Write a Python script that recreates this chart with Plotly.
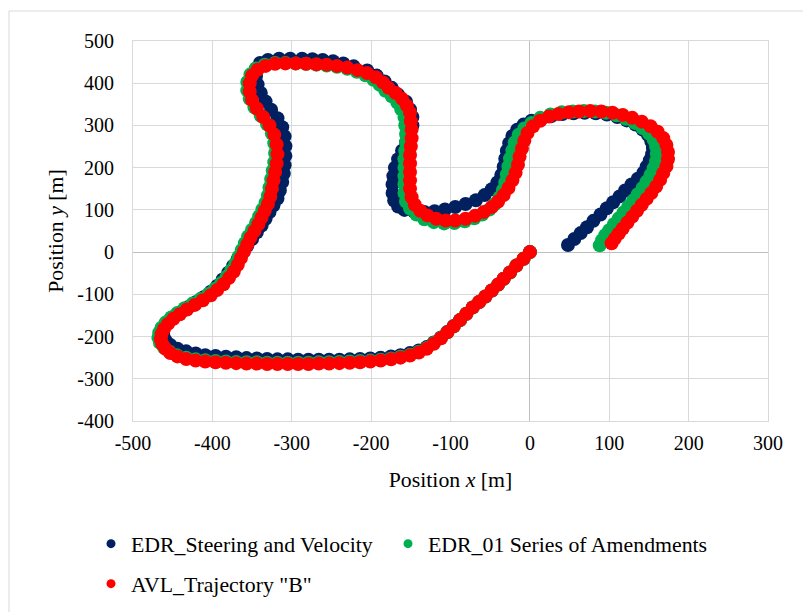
import plotly.graph_objects as go

# Vehicle trajectories, positions in metres
edr_sv_x = [0, -8, -17, -25, -33, -40, -48, -56, -64, -72, -80, -88, -96, -104, -112, -121, -130, -140, -151, -163,
            -175, -188, -201, -214, -227, -240, -253, -266, -279, -292, -305, -318, -331, -344, -357, -370, -383, -396, -409, -421,
            -433, -444, -453, -459, -462, -462, -459, -454, -447, -439, -430, -421, -411, -402, -394, -387, -380, -374, -368, -362,
            -356, -350, -344, -338, -333, -328, -323, -318, -315, -312, -310, -309, -308, -308, -309, -312, -318, -326, -333, -339,
            -343, -345, -345, -340, -330, -316, -302, -287, -274, -261, -248, -235, -222, -205, -193, -183, -174, -166, -156, -151,
            -148, -148, -151, -156, -161, -166, -170, -172, -173, -173, -171, -166, -158, -146, -133, -120, -107, -94, -81, -68,
            -57, -48, -41, -36, -33, -31, -29, -26, -22, -16, -8, 2, 14, 27, 41, 55, 69, 83, 97, 110,
            122, 133, 142, 149, 153, 155, 154, 151, 147, 143, 136, 128, 120, 113, 105, 97, 89, 80, 72, 64,
            56, 48]
edr_sv_y = [0, -16, -32, -48, -63, -77, -91, -105, -118, -131, -146, -161, -175, -189, -202, -214, -225, -233, -239, -244,
            -247, -250, -252, -253, -254, -255, -255, -255, -255, -255, -254, -254, -253, -252, -251, -249, -248, -246, -244, -240,
            -235, -229, -220, -209, -197, -185, -173, -162, -151, -141, -130, -119, -107, -94, -80, -65, -49, -33, -17, -1,
            15, 31, 47, 63, 79, 95, 111, 127, 146, 166, 186, 206, 228, 251, 274, 296, 317, 337, 357, 377,
            397, 417, 435, 448, 455, 458, 458, 458, 457, 455, 452, 447, 440, 430, 418, 404, 389, 373, 356, 338,
            320, 300, 280, 260, 240, 220, 200, 180, 160, 140, 122, 108, 100, 96, 95, 97, 101, 107, 114, 123,
            135, 149, 165, 183, 202, 221, 240, 258, 275, 290, 302, 311, 314, 322, 327, 329, 330, 329, 326, 320,
            312, 302, 290, 277, 262, 247, 232, 217, 202, 188, 174, 160, 146, 132, 118, 104, 89, 74, 59, 45,
            31, 17]

edr_01_x = [0, -8, -17, -25, -33, -40, -48, -56, -64, -72, -80, -88, -96, -104, -112, -121, -130, -140, -151, -163,
            -175, -188, -201, -214, -227, -240, -253, -266, -279, -292, -305, -318, -331, -344, -357, -370, -383, -396, -409, -421,
            -433, -445, -454, -461, -466, -468, -467, -464, -459, -452, -444, -435, -425, -415, -405, -397, -389, -382, -376, -371,
            -367, -363, -359, -355, -350, -345, -341, -337, -333, -330, -328, -326, -324, -322, -321, -322, -325, -331, -339, -347,
            -353, -356, -356, -352, -345, -334, -321, -308, -295, -282, -269, -256, -243, -230, -218, -207, -197, -189, -182, -174,
            -167, -162, -158, -157, -156, -156, -157, -158, -158, -158, -158, -158, -156, -151, -143, -133, -121, -108, -95, -82,
            -70, -60, -51, -44, -38, -34, -31, -29, -27, -25, -22, -19, -14, -7, 2, 13, 26, 40, 54, 68,
            82, 96, 109, 121, 132, 142, 150, 156, 159, 160, 159, 156, 152, 147, 142, 136, 130, 124, 118, 112,
            106, 100, 95, 91, 88]
edr_01_y = [0, -16, -32, -48, -63, -77, -91, -105, -118, -131, -146, -161, -176, -190, -203, -215, -227, -236, -243, -248,
            -252, -255, -257, -258, -259, -260, -261, -261, -262, -262, -262, -262, -262, -261, -261, -260, -259, -258, -256, -254,
            -250, -244, -236, -226, -215, -203, -191, -179, -167, -155, -144, -133, -122, -111, -99, -87, -73, -58, -43, -27,
            -11, 5, 21, 37, 53, 69, 85, 101, 117, 134, 153, 173, 193, 213, 235, 258, 281, 303, 323, 343,
            363, 383, 403, 421, 435, 444, 448, 448, 447, 446, 444, 442, 439, 434, 427, 419, 408, 396, 382, 369,
            354, 338, 320, 300, 280, 260, 240, 220, 200, 180, 160, 140, 120, 103, 89, 78, 71, 68, 69, 73,
            80, 89, 101, 114, 130, 147, 165, 184, 203, 222, 241, 260, 278, 293, 306, 318, 326, 331, 333, 334,
            333, 330, 324, 316, 306, 294, 281, 266, 250, 233, 216, 199, 183, 167, 152, 137, 122, 108, 94, 80,
            66, 52, 40, 28, 16]

avl_b_x = [0, -8, -17, -25, -33, -40, -48, -56, -64, -72, -80, -88, -96, -104, -112, -121, -130, -140, -151, -163,
           -175, -188, -201, -214, -227, -240, -253, -266, -279, -292, -305, -318, -331, -344, -357, -370, -383, -396, -409, -421,
           -433, -444, -453, -459, -463, -465, -464, -461, -456, -449, -441, -432, -422, -412, -402, -394, -386, -379, -373, -368,
           -364, -360, -356, -352, -347, -342, -338, -334, -330, -327, -325, -323, -321, -319, -318, -319, -322, -328, -336, -344,
           -350, -353, -353, -350, -343, -333, -321, -308, -295, -282, -269, -256, -243, -230, -217, -205, -194, -185, -178, -169,
           -161, -155, -151, -150, -149, -149, -150, -151, -151, -151, -151, -151, -149, -145, -138, -129, -118, -106, -94, -81,
           -69, -58, -48, -40, -33, -27, -22, -18, -15, -13, -10, -7, -3, 4, 13, 24, 36, 49, 62, 76,
           90, 104, 117, 129, 141, 152, 161, 168, 172, 174, 174, 172, 168, 164, 159, 153, 147, 141, 135, 129,
           123, 117, 112, 107, 103]
avl_b_y = [0, -16, -32, -48, -63, -77, -91, -105, -118, -131, -146, -161, -176, -190, -204, -217, -229, -238, -245, -250,
           -254, -257, -259, -261, -262, -263, -264, -264, -265, -265, -265, -265, -265, -264, -264, -263, -262, -261, -259, -257,
           -253, -247, -239, -229, -218, -206, -194, -182, -170, -158, -147, -136, -125, -114, -102, -90, -76, -61, -46, -30,
           -14, 2, 18, 34, 50, 66, 82, 98, 114, 131, 150, 170, 190, 210, 232, 255, 278, 300, 320, 340,
           360, 380, 400, 418, 432, 441, 446, 447, 447, 446, 445, 444, 441, 437, 431, 424, 414, 402, 389, 377,
           363, 347, 330, 310, 290, 270, 250, 230, 210, 190, 170, 150, 130, 112, 98, 87, 79, 75, 75, 79,
           86, 95, 107, 120, 135, 152, 170, 188, 207, 226, 245, 264, 282, 298, 311, 321, 327, 331, 333, 334,
           333, 330, 325, 318, 309, 298, 285, 270, 254, 237, 220, 203, 187, 171, 155, 140, 126, 112, 98, 84,
           70, 56, 44, 32, 21]

series = [
    ("EDR_Steering and Velocity", edr_sv_x, edr_sv_y, "#002060", "legend"),
    ("EDR_01 Series of Amendments", edr_01_x, edr_01_y, "#00B050", "legend3"),
    ('AVL_Trajectory "B"', avl_b_x, avl_b_y, "#FF0000", "legend2"),
]

x_ticks = [-500, -400, -300, -200, -100, 0, 100, 200, 300]
x_tick_labels = ["-500", "-400", "-300", "-200", "-100", "0", "100", "200", "300"]
y_ticks = [-400, -300, -200, -100, 0, 100, 200, 300, 400, 500]
y_tick_labels = ["-400", "-300", "-200", "-100", "0", "100", "200", "300", "400", "500"]

FONT = "Liberation Serif"
GRID = "#d9d9d9"
legend_font = dict(family=FONT, size=21.8, color="#000")
title_font = dict(family=FONT, size=21.8, color="#000")

fig = go.Figure()
for name, xs, ys, color, _ in series:
    fig.add_trace(go.Scatter(x=xs, y=ys, mode="markers", name=name, showlegend=False,
                             marker=dict(size=14, color=color, line=dict(width=0)),
                             hoverinfo="x+y+name"))
# small legend swatches
for name, xs, ys, color, leg in series:
    fig.add_trace(go.Scatter(x=[None], y=[None], mode="markers", name=name, legend=leg,
                             marker=dict(size=9, color=color)))

axis_common = dict(showgrid=True, gridcolor=GRID, gridwidth=1, zeroline=True,
                   zerolinecolor="#bfbfbf", zerolinewidth=1, showline=True, linecolor=GRID,
                   linewidth=1, mirror=True, ticks="", tickfont=dict(family=FONT, size=20, color="#000"),
                   fixedrange=True)


def legend_box(left_px, top_px):
    return dict(orientation="h", xref="container", yref="container", x=left_px / 803, y=1 - top_px / 612,
                xanchor="left", yanchor="top", itemwidth=30, font=legend_font, bgcolor="rgba(0,0,0,0)")


fig.update_layout(
    width=803, height=612,
    margin=dict(l=133, r=35, t=41, b=191),
    paper_bgcolor="white", plot_bgcolor="white",
    font=dict(family=FONT, size=20, color="#000"),
    xaxis=dict(range=[-500, 300], tickvals=x_ticks, ticktext=x_tick_labels,
               title=dict(text="Position <i>x</i> [m]", font=title_font, standoff=18),
               ticklabelstandoff=4, **axis_common),
    yaxis=dict(range=[-400, 500], tickvals=y_ticks, ticktext=y_tick_labels,
               title=dict(text="Position <i>y</i> [m]", font=title_font, standoff=7),
               ticklabelstandoff=14, **axis_common),
    legend=legend_box(91, 523),
    legend3=legend_box(388, 523),
    legend2=legend_box(91, 563),
    shapes=[dict(type="rect", xref="paper", yref="paper",
                 x0=(9 - 133) / 635, x1=(806 - 133) / 635, y0=(421 - 640) / 380, y1=(421 - 11) / 380,
                 line=dict(color=GRID, width=1), fillcolor="rgba(0,0,0,0)", layer="below")],
)

fig.write_html("out.html")
